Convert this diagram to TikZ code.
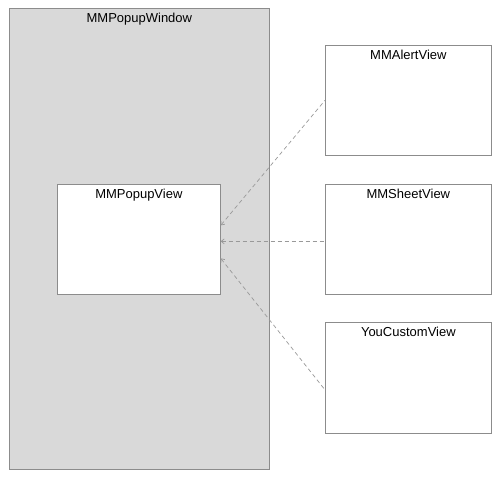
\documentclass[tikz,border=0pt]{standalone}
\usepackage{fontspec}
\setmainfont{Liberation Sans}
\usetikzlibrary{arrows.meta, positioning}

\begin{document}
\begin{tikzpicture}[x=1pt, y=-1pt, font=\fontsize{13}{15}\selectfont]
\tikzstyle{window} = [rectangle, anchor=north west, draw=black!45,
    fill=black!15, line width=0.7pt, inner sep=0pt]
\tikzstyle{viewbox} = [rectangle, anchor=north west, draw=black!45,
    fill=white, line width=0.7pt, inner sep=0pt,
    minimum width=166pt, minimum height=110pt]
\tikzstyle{caption} = [anchor=north, inner sep=0pt, yshift=-5pt]
\tikzstyle{link} = [draw=black!40, line width=0.7pt,
    dash pattern=on 4pt off 3pt, {Straight Barb[length=3pt,width=5pt]}-]

\useasboundingbox (0,0) rectangle (500,479);

% --- container ---
\node (win) [window, minimum width=260pt, minimum height=461pt] at (9,8) {};
\node (wintext) [caption] at (win.north) {MMPopupWindow};

\node (popup) [viewbox, minimum width=163pt] at (57,184) {};
\node (popuptext) [caption] at (popup.north) {MMPopupView};

% --- concrete views ---
\node (alert) [viewbox] at (325,45) {};
\node (alerttext) [caption] at (alert.north) {MMAlertView};
\node (sheet) [viewbox] at (325,184) {};
\node (sheettext) [caption] at (sheet.north) {MMSheetView};
\node (custom) [viewbox, minimum height=111pt] at (325,322) {};
\node (customtext) [caption] at (custom.north) {YouCustomView};

% --- links ---
\draw [link] ([yshift=14pt]popup.east) -- (alert.west);
\draw [link] ([yshift=-2pt]popup.east) -- ([yshift=-2pt]sheet.west);
\draw [link] ([yshift=-19pt]popup.east) -- ([yshift=-12pt]custom.west);
\end{tikzpicture}
\end{document}
